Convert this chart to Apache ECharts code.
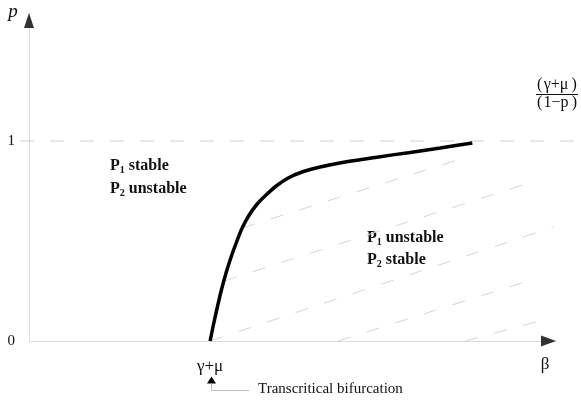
<html lang="en">
<head>
    <meta charset="UTF-8">
    <title>Transcritical bifurcation</title>
    <style>
        html, body {
            margin: 0;
            width: 100%;
            height: 100%;
            background: #ffffff;
            overflow: hidden;
        }

        #container {
            width: 581px;
            height: 406px;
        }
    </style>
</head>
<body>
<div id="container"></div>
</body>
<script type="text/javascript" src="https://cdn.jsdelivr.net/npm/echarts@6/dist/echarts.min.js"></script>
<script>
    // axes: beta in units of (gamma+mu), p from 0 to 1
    var xMax = 2.91, yMax = 1.64;
    var yTicks = [0, 1];
    var xTickNames = {1: 'γ+μ'};

    // boundary curve p(beta)
    var curveBeta = [1.000, 1.017, 1.039, 1.061, 1.088, 1.116, 1.144, 1.177, 1.216, 1.260, 1.309, 1.365, 1.431, 1.508, 1.608, 1.746, 1.912, 2.105, 2.271, 2.448];
    var curveP    = [0.000, 0.075, 0.165, 0.250, 0.340, 0.420, 0.490, 0.565, 0.630, 0.685, 0.730, 0.775, 0.815, 0.845, 0.870, 0.895, 0.918, 0.943, 0.965, 0.990];

    // hatching inside the P2-stable region: [beta0, p0, beta1, p1]
    var hatch = [
        [1.177, 0.565, 2.436, 0.925],
        [1.077, 0.300, 2.812, 0.805],
        [1.000, 0.000, 2.895, 0.570],
        [1.707, 0.000, 2.807, 0.315],
        [2.409, 0.000, 2.840, 0.105]
    ];

    // dashed line p = 1, running past both axes
    var limitBeta = [-0.05, 3.05];
    var limitP = [1, 1];

    var serif = '"Liberation Serif", "DejaVu Serif", serif';

    var curveData = curveBeta.map(function (b, i) { return [b, curveP[i]]; });
    var hatchData = hatch.map(function (h) { return {coords: [[h[0], h[1]], [h[2], h[3]]]}; });

    var myCharts = echarts.init(document.getElementById('container'));
    var option = {
        animation: false,
        grid: [
            {left: 29, right: 25, top: 13, bottom: 65},
            {left: 20, right: 0, top: 13, bottom: 65}
        ],
        xAxis: [
            {
                type: 'value',
                min: 0,
                max: xMax,
                interval: 1,
                splitLine: {show: false},
                axisTick: {show: false},
                axisLine: {lineStyle: {color: '#dcdcdc', width: 1}},
                axisLabel: {
                    margin: 17,
                    showMaxLabel: false,
                    fontFamily: serif,
                    fontSize: 17,
                    color: '#111',
                    formatter: function (v) { return xTickNames[v] || ''; }
                }
            },
            {
                gridIndex: 1,
                type: 'value',
                min: limitBeta[0],
                max: limitBeta[1],
                show: false
            }
        ],
        yAxis: [
            {
                type: 'value',
                min: 0,
                max: yMax,
                interval: 1,
                splitLine: {show: false},
                axisTick: {show: false},
                axisLine: {lineStyle: {color: '#dcdcdc', width: 1}},
                axisLabel: {
                    margin: 14,
                    showMaxLabel: false,
                    fontFamily: serif,
                    fontSize: 15,
                    color: '#111',
                    formatter: function (v) { return yTicks.indexOf(v) >= 0 ? String(v) : ''; }
                }
            },
            {
                gridIndex: 1,
                type: 'value',
                min: 0,
                max: yMax,
                show: false
            }
        ],
        series: [
            {
                type: 'line',
                xAxisIndex: 1,
                yAxisIndex: 1,
                data: limitBeta.map(function (b, i) { return [b, limitP[i]]; }),
                symbol: 'none',
                silent: true,
                lineStyle: {color: '#cfcfcf', width: 1, type: [14, 16]}
            },
            {
                type: 'lines',
                coordinateSystem: 'cartesian2d',
                data: hatchData,
                silent: true,
                lineStyle: {color: '#d4d4d4', width: 1, type: [13, 17], opacity: 1}
            },
            {
                type: 'line',
                data: curveData,
                smooth: 0.3,
                symbol: 'none',
                lineStyle: {color: '#000', width: 3.5}
            },
            {
                // axis arrow heads
                type: 'scatter',
                clip: false,
                silent: true,
                symbol: 'triangle',
                itemStyle: {color: '#000'},
                data: [
                    {value: [xMax - 7.5 / 181, 0], symbolSize: [11, 15], symbolRotate: -90},
                    {value: [0, yMax - 7.5 / 200], symbolSize: [10, 15]}
                ]
            }
        ],
        graphic: [
            {type: 'text', x: 13, y: 12, style: {text: 'p', font: 'italic 19px ' + serif, fill: '#111', textAlign: 'center', textVerticalAlign: 'middle'}},
            {type: 'text', x: 545, y: 365, style: {text: 'β', font: '17px ' + serif, fill: '#111', textAlign: 'center', textVerticalAlign: 'middle'}},
            {type: 'text', x: 557, y: 85, style: {text: '(\u200aγ+μ\u2009)', font: '16px ' + serif, fill: '#111', textAlign: 'center', textVerticalAlign: 'middle'}},
            {type: 'line', shape: {x1: 536, y1: 94.5, x2: 578, y2: 94.5}, style: {stroke: '#111', lineWidth: 1}},
            {type: 'text', x: 557, y: 103, style: {text: '(\u200a1−p\u2009)', font: '16px ' + serif, fill: '#111', textAlign: 'center', textVerticalAlign: 'middle'}},
            {
                type: 'text', x: 110, y: 154,
                style: {
                    text: '{b|P}{s|1}{b| stable}\n{b|P}{s|2}{b| unstable}',
                    fill: '#111',
                    rich: {
                        b: {fontFamily: serif, fontWeight: 'bold', fontSize: 16, lineHeight: 23},
                        s: {fontFamily: serif, fontWeight: 'bold', fontSize: 10, lineHeight: 23, padding: [9, 0, 0, 0]}
                    }
                }
            },
            {
                type: 'text', x: 367, y: 227,
                style: {
                    text: '{b|P}{s|1}{b| unstable}\n{b|P}{s|2}{b| stable}',
                    fill: '#111',
                    rich: {
                        b: {fontFamily: serif, fontWeight: 'bold', fontSize: 16, lineHeight: 22},
                        s: {fontFamily: serif, fontWeight: 'bold', fontSize: 10, lineHeight: 22, padding: [9, 0, 0, 0]}
                    }
                }
            },
            {type: 'polygon', shape: {points: [[211.5, 376.5], [207, 383.5], [216, 383.5]]}, style: {fill: '#000'}},
            {type: 'polyline', shape: {points: [[211.5, 384], [211.5, 390.5], [249, 390.5]]}, style: {stroke: '#bdbdbd', lineWidth: 1, fill: null}},
            {type: 'text', x: 258, y: 389, style: {text: 'Transcritical bifurcation', font: '15px ' + serif, fill: '#111', textAlign: 'left', textVerticalAlign: 'middle'}}
        ]
    };

    myCharts.setOption(option);
</script>
</html>
